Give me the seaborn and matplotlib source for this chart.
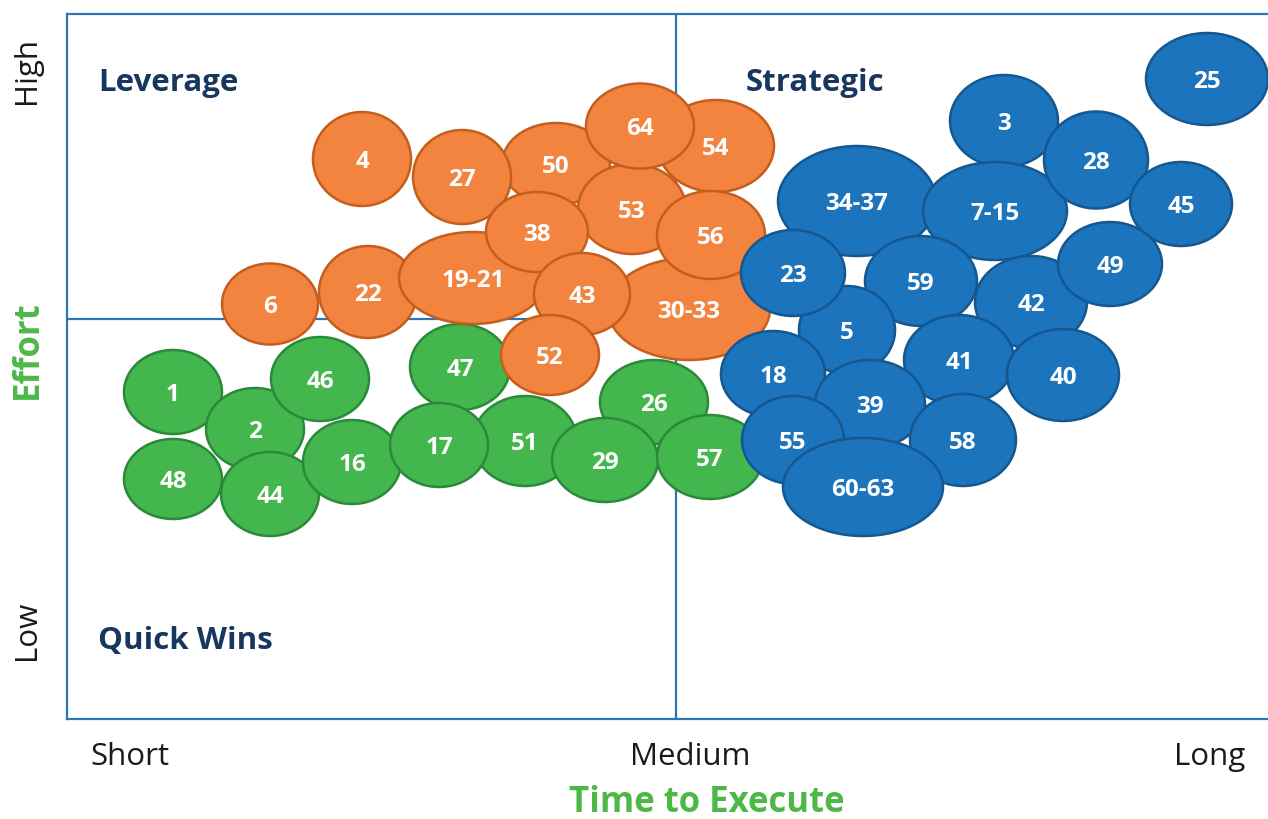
import numpy as np
import pandas as pd
import matplotlib
matplotlib.use('Agg')
import matplotlib.pyplot as plt
import seaborn as sns
from matplotlib.patches import Ellipse

# items: label, time to execute (x), effort (y), ellipse width, ellipse height
green_labels = ['1', '2', '46', '48', '44', '16', '47', '51', '17', '26', '29', '57']
green_x = [10.6, 18.8, 25.3, 10.6, 20.3, 28.5, 39.3, 45.8, 37.2, 58.7, 53.8, 64.3]
green_y = [32.7, 29.0, 34.0, 24.0, 22.5, 25.7, 35.2, 27.8, 27.4, 31.7, 25.9, 26.2]
green_w = [9.8, 9.8, 9.8, 9.8, 9.8, 9.8, 10.0, 10.4, 9.8, 10.8, 10.6, 10.6]
green_h = [8.4, 8.2, 8.4, 8.0, 8.4, 8.4, 8.6, 9.0, 8.4, 8.4, 8.4, 8.4]

orange_labels = ['4', '6', '22', '50', '27', '53', '54', '64', '30-33', '56', '19-21', '38', '43', '52']
orange_x = [29.5, 20.3, 30.1, 48.9, 39.5, 56.5, 64.9, 57.3, 62.2, 64.4, 40.6, 47.0, 51.5, 48.3]
orange_y = [56.0, 41.5, 42.7, 55.5, 54.2, 51.0, 57.3, 59.3, 41.0, 48.4, 44.1, 48.7, 42.5, 36.4]
orange_w = [9.8, 9.6, 9.8, 10.8, 9.8, 10.8, 11.6, 10.8, 16.2, 10.8, 14.8, 10.2, 9.6, 9.8]
orange_h = [9.4, 8.1, 9.2, 8.2, 9.4, 9.0, 9.2, 8.5, 10.2, 8.8, 9.2, 8.0, 8.2, 8.0]

blue_labels = ['25', '3', '34-37', '7-15', '28', '45', '59', '42', '49', '5', '23', '41',
               '40', '18', '39', '58', '55', '60-63']
blue_x = [114.0, 93.7, 79.0, 92.8, 102.9, 111.4, 85.4, 96.4, 104.3, 78.0, 72.6, 89.2,
          99.6, 70.6, 80.3, 89.6, 72.6, 79.6]
blue_y = [64.0, 59.8, 51.8, 50.8, 55.9, 51.5, 43.8, 41.7, 45.5, 38.9, 44.6, 35.9,
          34.4, 34.5, 31.5, 27.9, 27.9, 23.2]
blue_w = [12.2, 10.8, 15.8, 14.4, 10.4, 10.2, 11.2, 11.2, 10.4, 9.6, 10.4, 11.0,
          11.2, 10.4, 11.0, 10.6, 10.2, 16.0]
blue_h = [9.2, 9.2, 11.0, 9.8, 9.7, 8.4, 9.0, 9.2, 8.4, 8.8, 8.6, 9.0,
          9.2, 8.6, 8.8, 9.2, 8.8, 9.8]

time_ticks = ['Short', 'Medium', 'Long']
effort_ticks = ['Low', 'High']
quadrants = ['Leverage', 'Strategic', 'Quick Wins']

sns.set_style('white')
plt.rcParams['font.family'] = ['Open Sans', 'DejaVu Sans']

fig = plt.figure(figsize=(12.68, 8.2), dpi=100)
ax = fig.add_axes([67 / 1268, 100 / 820, 1 - 67 / 1268, 705 / 820])
ax.set_xlim(0, 120.1)
ax.set_ylim(0, 70.5)

line_col = '#2E75B6'
for s in ['left', 'top', 'bottom']:
    ax.spines[s].set_color(line_col)
    ax.spines[s].set_linewidth(1.6)
sns.despine(ax=ax, right=True, top=False)

# quadrant dividers
ax.axvline(60.9, color=line_col, lw=1.6, zorder=1)
ax.plot([0, 60.9], [40.0, 40.0], color=line_col, lw=1.6, zorder=1)

groups = [
    (green_labels, green_x, green_y, green_w, green_h, '#44B64E', '#2A8A3A'),
    (orange_labels, orange_x, orange_y, orange_w, orange_h, '#F28440', '#C55E1C'),
    (blue_labels, blue_x, blue_y, blue_w, blue_h, '#1C74BC', '#15578F'),
]
z = 2
for labels, xs, ys, ws, hs, fill, edge in groups:
    for lab, x, y, w, h in zip(labels, xs, ys, ws, hs):
        ax.add_patch(Ellipse((x, y), w, h, facecolor=fill, edgecolor=edge,
                             lw=1.8, zorder=z))
        ax.text(x, y - 0.2, lab, color='white', fontsize=17.5, fontweight='bold',
                ha='center', va='center', zorder=z + 0.5)
        z += 1

navy = '#17375E'
ax.text(3.1, 63.7, quadrants[0], color=navy, fontsize=22.5, fontweight='bold', va='center')
ax.text(67.9, 63.7, quadrants[1], color=navy, fontsize=22.5, fontweight='bold', va='center')
ax.text(3.1, 7.9, quadrants[2], color=navy, fontsize=22.5, fontweight='bold', va='center')

ax.set_xticks([6.3, 62.3, 114.3])
ax.set_xticklabels(time_ticks, fontsize=22.5, color='#1a1a1a')
ax.set_yticks([9.0, 65.0])
ax.set_yticklabels(effort_ticks, fontsize=22.5, color='#1a1a1a', rotation=90, va='center')
ax.tick_params(axis='x', length=0, pad=16)
ax.tick_params(axis='y', length=0, pad=18)

green_txt = '#4DB848'
fig.text(707 / 1268, 1 - 803 / 820, 'Time to Execute', color=green_txt, fontsize=25,
         fontweight='bold', ha='center', va='center')
fig.text(28 / 1268, 1 - 350 / 820, 'Effort', color=green_txt, fontsize=25,
         fontweight='bold', ha='center', va='center', rotation=90)

fig.savefig('out.png', dpi=100)
